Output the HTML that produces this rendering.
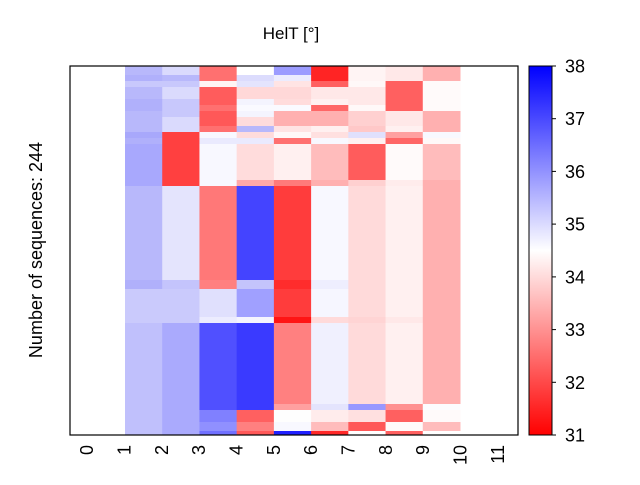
<!DOCTYPE html>
<html><head><meta charset="utf-8"><style>
html,body{margin:0;padding:0;background:#fff;}
svg text{font-family:"Liberation Sans","DejaVu Sans",sans-serif;}
</style></head><body>
<svg id="s" width="640" height="480" xmlns="http://www.w3.org/2000/svg">
<defs><linearGradient id="bwr" x1="0" y1="1" x2="0" y2="0">
<stop offset="0" stop-color="#ff0000"/><stop offset="0.5" stop-color="#ffffff"/><stop offset="1" stop-color="#0000ff"/></linearGradient></defs>
<g id="cells"></g>
<rect x="70" y="66" width="448" height="369" fill="none" stroke="#000" stroke-width="1.2"/>
<rect x="529" y="66" width="23" height="369" fill="url(#bwr)" stroke="#000" stroke-width="1"/>
<g stroke="#000" stroke-width="1">
<line x1="552" y1="66" x2="556" y2="66"/><line x1="552" y1="118.7" x2="556" y2="118.7"/><line x1="552" y1="171.4" x2="556" y2="171.4"/><line x1="552" y1="224.1" x2="556" y2="224.1"/><line x1="552" y1="276.9" x2="556" y2="276.9"/><line x1="552" y1="329.6" x2="556" y2="329.6"/><line x1="552" y1="382.3" x2="556" y2="382.3"/><line x1="552" y1="435" x2="556" y2="435"/>
</g>
<g font-size="18" fill="#000">
<text x="565" y="72.5">38</text><text x="565" y="125.2">37</text><text x="565" y="177.9">36</text><text x="565" y="230.6">35</text><text x="565" y="283.4">34</text><text x="565" y="336.1">33</text><text x="565" y="388.8">32</text><text x="565" y="441.5">31</text>
</g>
<text x="291" y="39" font-size="17" text-anchor="middle">HelT [°]</text>
<text transform="translate(42,250) rotate(-90)" font-size="18" text-anchor="middle">Number of sequences: 244</text>
<g id="xt" font-size="18"></g>
</svg>
<script>
var ys=[66,75,81,87,99,105,111,117,126,132,138,144,180,186,280,289,317,323,404,410,422,431,435];
var R=[
"b8b8fb dadafd ff7070 ffffff 9c9cff ff2424 fff4f4 ffe8e8 ffb0b0",
"b0b0fb b8b8fb ff7070 dcdcfd ececfe ff2424 fff4f4 ffe8e8 ffb0b0",
"c8c8fc c8c8fc fff4f4 e4e4fd ffe4e4 ff6060 fff8f8 ff6060 fffafa",
"b8b8fb dadafd ff5c5c ffd8d8 ffd8d8 ffe8e8 ffe8e8 ff6060 fffafa",
"b0b0fb c8c8fc ff5c5c f4f4fe ffdcdc fff0f0 ffe8e8 ff6060 fffafa",
"b0b0fb c8c8fc ff7070 fafaff fafaff ff6666 fff8f8 ff6060 fffafa",
"b8b8fb c8c8fc ff5858 f4f4fe ffb0b0 ffb0b0 ffd0d0 ffe8e8 ffb0b0",
"b8b8fb dadafd ff5858 ffdcdc ffb0b0 ffb0b0 ffd0d0 ffe8e8 ffb0b0",
"b8b8fb dadafd ff7070 b8b8fb ffe4e4 fff0f0 ffc8c8 fff0f0 ffb0b0",
"a8a8fb ff4040 f8f8ff ffdcdc fff8f8 ffe0e0 e0e0fd ffa0a0 f8f8ff",
"b0b0fb ff4040 eaeafe eaeafe ff7070 f8f8ff fff0f0 ff6666 fff8f8",
"a8a8fd ff4040 f8f8ff ffdcdc fff0f0 ffbcbc ff5c5c fffafa ffbcbc",
"a8a8fd ff4040 f8f8ff ffa8a8 ff7a7a ffb0b0 ffd0d0 ffecec ffb0b0",
"b8b8fb e4e4fd ff7878 4444ff ff3c3c f8f8ff ffdada fff0f0 ffb0b0",
"b0b0fb c4c4fc ff8080 c4c4fc ff2c2c eeeefe ffdada fff0f0 ffb0b0",
"cacafc cacafc e0e0fd a0a0ff ff3c3c f6f6ff ffdada fff0f0 ffb0b0",
"cacafc cacafc ececfe f4f4fe ff1414 ffdada ffd4d4 ffe8e8 ffb0b0",
"c0c0fc aaaafd 5050ff 3a3aff ff8080 f0f0fe ffdada fff0f0 ffb0b0",
"c0c0fc aaaafd 5050ff 3a3aff ffa0a0 e4e4fd 9898ff ff9090 fcfcff",
"c0c0fc aaaafd 8080ff ff6060 fefefe ffecec ffe0e0 ff6060 fffafa",
"c0c0fc aaaafd 9090ff ff8080 f8f8ff ffbcbc ff5858 fffafa ffbcbc",
"c0c0fc aaaafd 7070ff ff5858 2020ff ff2828 ffffff ff6060 ffffff"];
var g=document.getElementById('cells'),h='';
var cw=(460-125)/9;
for(var r=0;r<R.length;r++){var c=R[r].split(' ');for(var k=0;k<9;k++){
h+='<rect x="'+(125+k*cw)+'" y="'+ys[r]+'" width="'+(cw+0.5)+'" height="'+(ys[r+1]-ys[r]+0.5)+'" fill="#'+c[k]+'"/>';}}
g.innerHTML=h;
var t='';for(var i=0;i<12;i++){var x=70+448/12*(i+0.5)+4.5;
t+='<text transform="translate('+x+',445) rotate(-90)" text-anchor="end">'+i+'</text>';}
document.getElementById('xt').innerHTML=t;
</script>
</body></html>
